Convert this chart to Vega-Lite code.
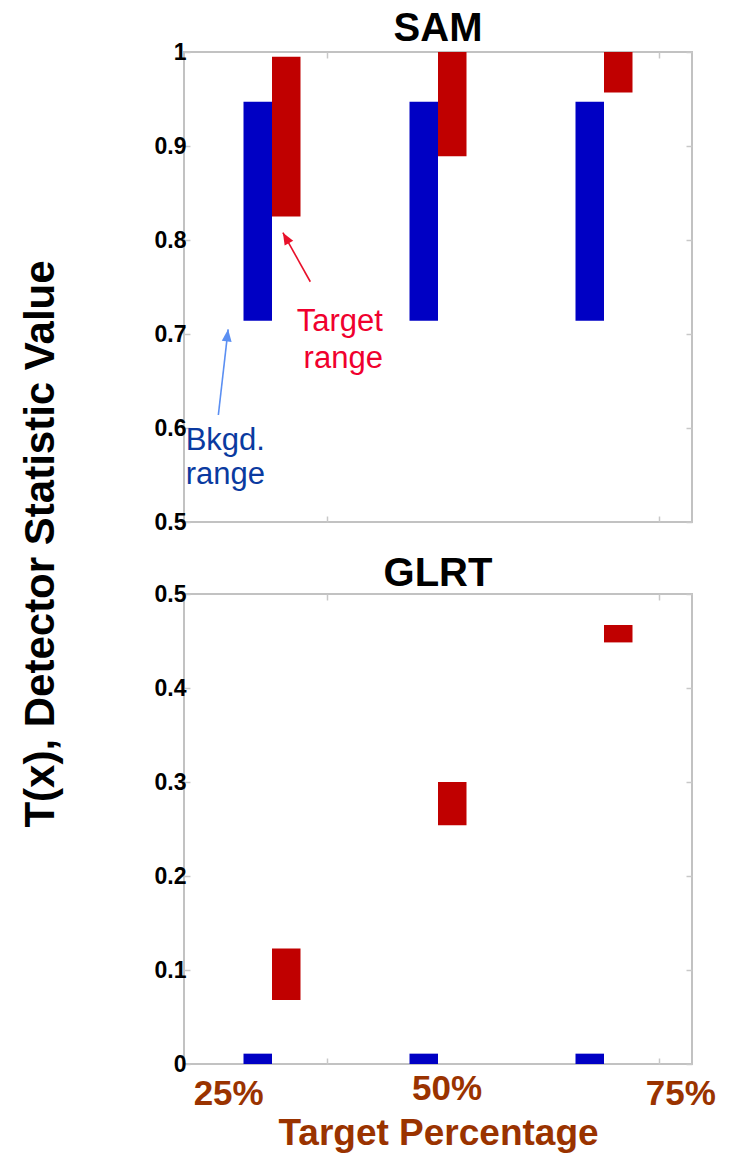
{
  "$schema": "https://vega.github.io/schema/vega-lite/v6.json",
  "background": "white",
  "padding": {"left": 20, "top": 8, "right": 5, "bottom": 5},
  "title": {"text": "T(x), Detector Statistic Value", "orient": "left", "anchor": "middle", "fontSize": 42, "fontWeight": "bold", "font": "Liberation Sans", "color": "black", "offset": 90, "dx": 36},
  "datasets": {
    "bars": [
      {"panel": "SAM", "pct": 25, "series": "Bkgd.", "lo": 0.714, "hi": 0.947},
      {"panel": "SAM", "pct": 50, "series": "Bkgd.", "lo": 0.714, "hi": 0.947},
      {"panel": "SAM", "pct": 75, "series": "Bkgd.", "lo": 0.714, "hi": 0.947},
      {"panel": "SAM", "pct": 25, "series": "Target", "lo": 0.825, "hi": 0.995},
      {"panel": "SAM", "pct": 50, "series": "Target", "lo": 0.889, "hi": 1.0},
      {"panel": "SAM", "pct": 75, "series": "Target", "lo": 0.957, "hi": 1.0},
      {"panel": "GLRT", "pct": 25, "series": "Bkgd.", "lo": 0.0, "hi": 0.011},
      {"panel": "GLRT", "pct": 50, "series": "Bkgd.", "lo": 0.0, "hi": 0.011},
      {"panel": "GLRT", "pct": 75, "series": "Bkgd.", "lo": 0.0, "hi": 0.011},
      {"panel": "GLRT", "pct": 25, "series": "Target", "lo": 0.068, "hi": 0.123},
      {"panel": "GLRT", "pct": 50, "series": "Target", "lo": 0.254, "hi": 0.300},
      {"panel": "GLRT", "pct": 75, "series": "Target", "lo": 0.4485, "hi": 0.467}
    ],
    "notes": [
      {"note": "Target", "text": "Target", "x": 41.7, "y": 0.7032},
      {"note": "Target", "text": "range", "x": 41.7, "y": 0.6642},
      {"note": "Bkgd.", "text": "Bkgd.", "x": 12.0, "y": 0.577},
      {"note": "Bkgd.", "text": "range", "x": 12.0, "y": 0.5404}
    ],
    "arrows": [
      {"note": "Target", "x": 30.77, "y": 0.7556, "x2": 26.64, "y2": 0.8078},
      {"note": "Bkgd.", "x": 16.92, "y": 0.6138, "x2": 18.39, "y2": 0.705}
    ]
  },
  "config": {
    "font": "Liberation Sans",
    "view": {"stroke": "#c2c2c2", "strokeWidth": 2},
    "axis": {"domain": false, "grid": false, "tickColor": "#c8c8c8", "tickSize": -6, "tickWidth": 1.5, "labelFont": "Liberation Sans", "labelFontWeight": "bold", "labelColor": "black", "labelFontSize": 23, "labelPadding": 4},
    "title": {"font": "Liberation Sans", "fontWeight": "bold", "fontSize": 40, "color": "black"}
  },
  "spacing": 18,
  "vconcat": [
    {
      "width": 508,
      "height": 470,
      "title": {"text": "SAM", "offset": -8},
      "layer": [
        {
          "data": {"name": "bars"},
          "transform": [{"filter": "datum.panel === 'SAM' && datum.series === 'Bkgd.'"}],
          "mark": {"type": "bar", "width": 28.5, "xOffset": -14.25, "color": "#0000c4"},
          "encoding": {
            "x": {"field": "pct", "type": "quantitative", "scale": {"domain": [12.5, 87.5], "nice": false, "zero": false}, "axis": {"orient": "bottom", "values": [33.33, 83.33], "labels": false, "title": null}},
            "y": {"field": "lo", "type": "quantitative", "scale": {"domain": [0.5, 1], "nice": false, "zero": false}, "axis": {"orient": "left", "values": [0.5, 0.6, 0.7, 0.8, 0.9, 1], "format": "~g", "title": null}},
            "y2": {"field": "hi"}
          }
        },
        {
          "data": {"name": "bars"},
          "transform": [{"filter": "datum.panel === 'SAM' && datum.series === 'Target'"}],
          "mark": {"type": "bar", "width": 28.5, "xOffset": 14.25, "color": "#c00000"},
          "encoding": {
            "x": {"field": "pct", "type": "quantitative", "axis": {"orient": "top", "values": [33.33, 83.33], "labels": false, "title": null}},
            "y": {"field": "lo", "type": "quantitative", "axis": {"orient": "right", "values": [0.5, 0.6, 0.7, 0.8, 0.9, 1], "labels": false, "title": null}},
            "y2": {"field": "hi"}
          }
        },
        {
          "data": {"name": "arrows"},
          "mark": {"type": "rule", "strokeWidth": 1.6},
          "encoding": {
            "x": {"field": "x", "type": "quantitative", "axis": null},
            "y": {"field": "y", "type": "quantitative", "axis": null},
            "x2": {"field": "x2"},
            "y2": {"field": "y2"},
            "color": {"field": "note", "type": "nominal", "scale": {"domain": ["Target", "Bkgd."], "range": ["#e8102a", "#5b8ff2"]}, "legend": null}
          }
        },
        {
          "data": {"name": "arrows"},
          "transform": [{"filter": "datum.note === 'Target'"}],
          "mark": {"type": "point", "shape": "M0,0L-0.45,1.1L0.45,1.1Z", "size": 484, "angle": 330, "filled": true, "opacity": 1, "color": "#e8102a"},
          "encoding": {
            "x": {"field": "x2", "type": "quantitative", "axis": null},
            "y": {"field": "y2", "type": "quantitative", "axis": null}
          }
        },
        {
          "data": {"name": "arrows"},
          "transform": [{"filter": "datum.note === 'Bkgd.'"}],
          "mark": {"type": "point", "shape": "M0,0L-0.45,1.1L0.45,1.1Z", "size": 484, "angle": 6.7, "filled": true, "opacity": 1, "color": "#5b8ff2"},
          "encoding": {
            "x": {"field": "x2", "type": "quantitative", "axis": null},
            "y": {"field": "y2", "type": "quantitative", "axis": null}
          }
        },
        {
          "data": {"name": "notes"},
          "transform": [{"filter": "datum.note === 'Target'"}],
          "mark": {"type": "text", "align": "right", "baseline": "alphabetic", "fontSize": 31, "font": "Liberation Sans", "color": "#f0002e"},
          "encoding": {
            "x": {"field": "x", "type": "quantitative", "axis": null},
            "y": {"field": "y", "type": "quantitative", "axis": null},
            "text": {"field": "text"}
          }
        },
        {
          "data": {"name": "notes"},
          "transform": [{"filter": "datum.note === 'Bkgd.'"}],
          "mark": {"type": "text", "align": "left", "baseline": "alphabetic", "fontSize": 31, "font": "Liberation Sans", "color": "#0a3aa0"},
          "encoding": {
            "x": {"field": "x", "type": "quantitative", "axis": null},
            "y": {"field": "y", "type": "quantitative", "axis": null},
            "text": {"field": "text"}
          }
        }
      ]
    },
    {
      "width": 508,
      "height": 470,
      "title": {"text": "GLRT", "offset": -11},
      "layer": [
        {
          "data": {"name": "bars"},
          "transform": [{"filter": "datum.panel === 'GLRT' && datum.series === 'Bkgd.'"}],
          "mark": {"type": "bar", "width": 28.5, "xOffset": -14.25, "color": "#0000c4"},
          "encoding": {
            "x": {"field": "pct", "type": "quantitative", "scale": {"domain": [12.5, 87.5], "nice": false, "zero": false}, "axis": {"orient": "bottom", "values": [18.4, 33.33, 51.3, 83.33, 86.5], "labelExpr": "datum.value < 20 ? '25%' : (datum.value > 50 && datum.value < 52) ? '50%' : datum.value > 85 ? '75%' : ''", "labelFontSize": 35, "labelColor": "#9a3300", "labelPadding": {"condition": {"test": "datum.value > 50 && datum.value < 52", "value": 13}, "value": 18}, "labelOverlap": false, "labelFlush": false, "labelBound": false, "tickOpacity": {"condition": {"test": "datum.value === 33.33 || datum.value === 83.33", "value": 1}, "value": 0}, "title": "Target Percentage", "titleFontSize": 37, "titleFontWeight": "bold", "titleColor": "#9a3300", "titlePadding": 4}},
            "y": {"field": "lo", "type": "quantitative", "scale": {"domain": [0, 0.5], "nice": false, "zero": false}, "axis": {"orient": "left", "values": [0, 0.1, 0.2, 0.3, 0.4, 0.5], "format": "~g", "title": null}},
            "y2": {"field": "hi"}
          }
        },
        {
          "data": {"name": "bars"},
          "transform": [{"filter": "datum.panel === 'GLRT' && datum.series === 'Target'"}],
          "mark": {"type": "bar", "width": 28.5, "xOffset": 14.25, "color": "#c00000"},
          "encoding": {
            "x": {"field": "pct", "type": "quantitative", "axis": {"orient": "top", "values": [33.33, 83.33], "labels": false, "title": null}},
            "y": {"field": "lo", "type": "quantitative", "axis": {"orient": "right", "values": [0, 0.1, 0.2, 0.3, 0.4, 0.5], "labels": false, "title": null}},
            "y2": {"field": "hi"}
          }
        }
      ]
    }
  ]
}
